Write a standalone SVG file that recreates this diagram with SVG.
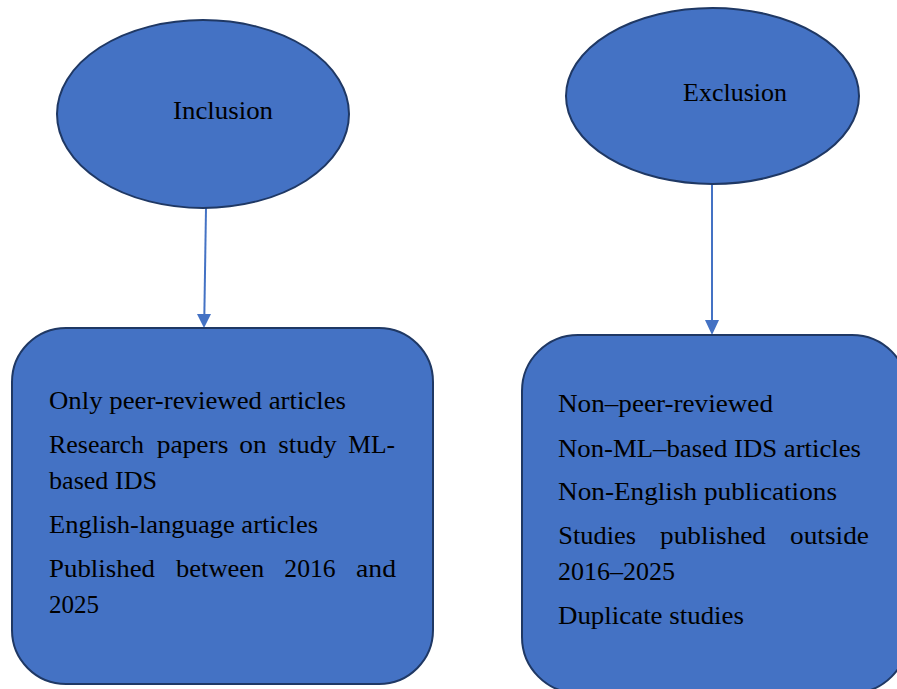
<svg xmlns="http://www.w3.org/2000/svg" width="897" height="689" viewBox="0 0 897 689">
<style>
.shape{fill:#4472C4;stroke:#1F3864;stroke-width:2}
.conn{stroke:#4472C4;stroke-width:2;fill:none}
text{font-family:"Liberation Serif","Times New Roman",serif;font-size:26px;fill:#000}
</style>
<rect width="897" height="689" fill="#fff"/>
<g id="connectors">
<path class="conn" d="M206,208 L204.3,318"/>
<path d="M197,314 L211,314 L204,328 Z" fill="#4472C4"/>
<path class="conn" d="M712,184 L712,322"/>
<path d="M705,320 L719,320 L712,335 Z" fill="#4472C4"/>
</g>
<g id="inclusion">
<ellipse class="shape" cx="203" cy="114" rx="146" ry="94"/>
<text x="173" y="119" textLength="100" lengthAdjust="spacingAndGlyphs">Inclusion</text>
</g>
<g id="exclusion">
<ellipse class="shape" cx="712.5" cy="96" rx="146.5" ry="88"/>
<text x="683" y="101" textLength="104" lengthAdjust="spacingAndGlyphs">Exclusion</text>
</g>
<g id="inclusion-criteria">
<rect class="shape" x="12" y="328" width="421" height="356" rx="54" ry="54"/>
<text x="49" y="409" textLength="297" lengthAdjust="spacingAndGlyphs">Only peer-reviewed articles</text>
<text x="49" y="453" textLength="95" lengthAdjust="spacingAndGlyphs">Research</text>
<text x="156.7" y="453" textLength="71.7" lengthAdjust="spacingAndGlyphs">papers</text>
<text x="239.3" y="453" textLength="27.4" lengthAdjust="spacingAndGlyphs">on</text>
<text x="278.3" y="453" textLength="58.4" lengthAdjust="spacingAndGlyphs">study</text>
<text x="348.3" y="453" textLength="46.7" lengthAdjust="spacingAndGlyphs">ML-</text>
<text x="49" y="489" textLength="108" lengthAdjust="spacingAndGlyphs">based IDS</text>
<text x="49" y="533" textLength="269" lengthAdjust="spacingAndGlyphs">English-language articles</text>
<text x="49" y="577" textLength="106" lengthAdjust="spacingAndGlyphs">Published</text>
<text x="176" y="577" textLength="88.3" lengthAdjust="spacingAndGlyphs">between</text>
<text x="284.3" y="577" textLength="51.4" lengthAdjust="spacingAndGlyphs">2016</text>
<text x="356" y="577" textLength="40" lengthAdjust="spacingAndGlyphs">and</text>
<text x="49" y="613" textLength="50" lengthAdjust="spacingAndGlyphs">2025</text>
</g>
<g id="exclusion-criteria">
<rect class="shape" x="522" y="335" width="386" height="358" rx="56" ry="56"/>
<text x="558" y="412" textLength="215" lengthAdjust="spacingAndGlyphs">Non–peer-reviewed</text>
<text x="558" y="457" textLength="303" lengthAdjust="spacingAndGlyphs">Non-ML–based IDS articles</text>
<text x="558" y="500" textLength="279" lengthAdjust="spacingAndGlyphs">Non-English publications</text>
<text x="558.3" y="544" textLength="77.7" lengthAdjust="spacingAndGlyphs">Studies</text>
<text x="660" y="544" textLength="106" lengthAdjust="spacingAndGlyphs">published</text>
<text x="790" y="544" textLength="79" lengthAdjust="spacingAndGlyphs">outside</text>
<text x="558" y="580" textLength="117" lengthAdjust="spacingAndGlyphs">2016–2025</text>
<text x="558" y="624" textLength="186" lengthAdjust="spacingAndGlyphs">Duplicate studies</text>
</g>
</svg>
